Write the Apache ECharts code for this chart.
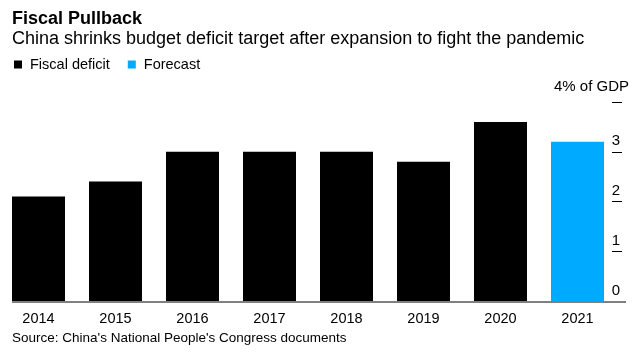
<!DOCTYPE html>
<html>
<head>
<meta charset="utf-8">
<script src="https://cdn.jsdelivr.net/npm/echarts@6/dist/echarts.min.js"></script>
<style>
  html, body { margin: 0; padding: 0; background: #fff; }
  #chart { width: 639px; height: 354px; }
</style>
</head>
<body>
<div id="chart"></div>
<script>
const years = ['2014', '2015', '2016', '2017', '2018', '2019', '2020', '2021']
const deficit = [2.1, 2.4, 3.0, 3.0, 3.0, 2.8, 3.6, null]
const forecast = [null, null, null, null, null, null, null, 3.2]
const yTicks = [0, 1, 2, 3, 4]

const font = '"Liberation Sans", Arial, sans-serif'
const chart = echarts.init(document.getElementById('chart'), null, { renderer: 'canvas' })

const option = {
  animation: false,
  textStyle: { fontFamily: font },
  title: [
    {
      text: 'Fiscal Pullback',
      left: 12, top: 10, padding: 0,
      textStyle: { fontSize: 18, fontWeight: 'bold', color: '#000', fontFamily: font }
    },
    {
      text: 'China shrinks budget deficit target after expansion to fight the pandemic',
      left: 12, top: 30, padding: 0,
      textStyle: { fontSize: 18, fontWeight: 'normal', color: '#000', fontFamily: font }
    },
    {
      text: "Source: China's National People's Congress documents",
      left: 12, top: 331, padding: 0,
      textStyle: { fontSize: 13.5, fontWeight: 'normal', color: '#000', fontFamily: font }
    }
  ],
  legend: {
    left: 14, top: 57, padding: 0,
    icon: 'rect', itemWidth: 8, itemHeight: 8, itemGap: 18,
    selectedMode: false,
    textStyle: { fontSize: 14.5, color: '#000', padding: [0, 0, 0, 3] },
    data: ['Fiscal deficit', 'Forecast']
  },
  grid: { left: 0, right: 23, top: 102, bottom: 53 },
  xAxis: {
    type: 'category',
    data: years,
    axisLine: { show: false },
    axisTick: { show: false },
    axisLabel: { fontSize: 14.5, color: '#000', margin: 10 }
  },
  yAxis: {
    type: 'value',
    position: 'right',
    offset: -4,
    min: 0, max: 4, interval: 1,
    axisLine: { show: false },
    axisTick: { show: true, length: 10, customValues: yTicks.slice(1), lineStyle: { color: '#000', width: 1 } },
    splitLine: { show: false },
    axisLabel: {
      margin: 17,
      align: 'right',
      verticalAlign: 'bottom',
      formatter: v => v === 4 ? '{u|4% of GDP}' : '{n|' + v + '}',
      rich: {
        n: { fontSize: 15, color: '#000', padding: [0, 9, 3, 0], fontFamily: font },
        u: { fontSize: 15, color: '#000', padding: [0, 0, 8, 0], fontFamily: font }
      }
    }
  },
  series: [
    {
      name: 'Fiscal deficit', type: 'bar', data: deficit,
      barWidth: 53, barGap: '-100%',
      itemStyle: { color: '#000' }
    },
    {
      name: 'Forecast', type: 'bar', data: forecast,
      barWidth: 53, barGap: '-100%',
      itemStyle: { color: '#00aaff' }
    }
  ]
}

chart.setOption(option)

// baseline runs a little past the plot on both sides
const y0 = chart.convertToPixel({ yAxisIndex: 0 }, 0)
chart.setOption({
  graphic: [{
    type: 'line', z: 100,
    shape: { x1: 12, y1: y0 + 1, x2: 626, y2: y0 + 1 },
    style: { stroke: '#808080', lineWidth: 2 }
  }]
})
</script>
</body>
</html>
